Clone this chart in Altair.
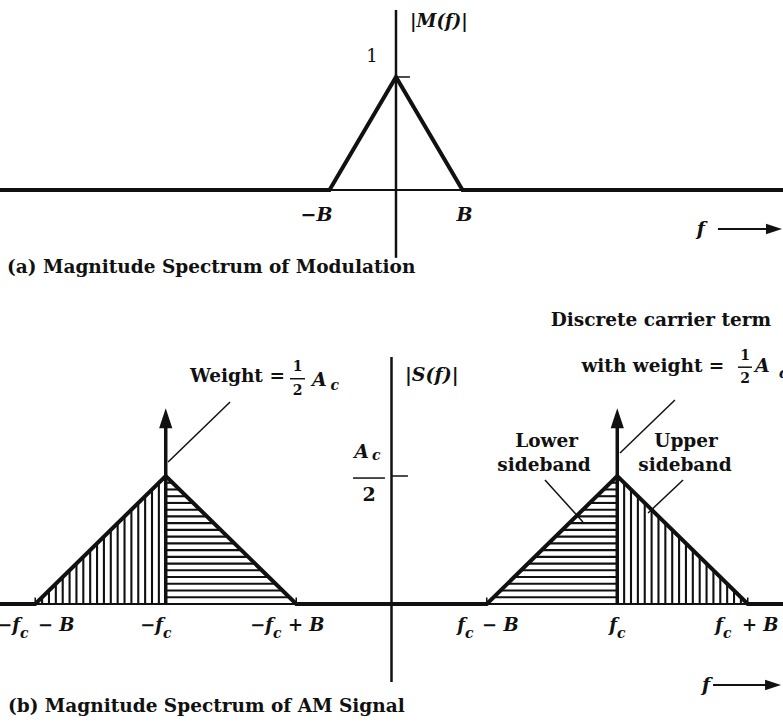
import altair as alt
import numpy as np
import pandas as pd

INK = "#111111"
SERIF = "DejaVu Serif"

# (a) message spectrum |M(f)|: f in units of B, peak normalised to 1
m_freq = [-5.955, -1.0, 0.0, 1.0, 5.82]
m_mag = [0.0, 0.0, 1.0, 0.0, 0.0]

# (b) AM spectrum |S(f)|: f in units of B, sideband peak A_c/2 taken as 1
f_c = 1.73
band = 1.0
s_freq = [-3.0, -f_c - band, -f_c, -f_c + band, f_c - band, f_c, f_c + band, 3.0]
s_mag = [0.0, 0.0, 1.0, 0.0, 0.0, 1.0, 0.0, 0.0]
carrier_freq = [-f_c, f_c]
carrier_top = [1.53, 1.53]          # drawn height of the impulse arrows

# frequency tick labels of panel (b): prefix, subscript, suffix
tick_prefix = ["\u2212f", "\u2212f", "\u2212f", "f", "f", "f"]
tick_suffix = ["\u2212 B", "", "+ B", "\u2212 B", "", "+ B"]

# plot frames (data units)
A_X, A_Y, A_H = (-5.955, 5.82), (-0.973, 1.681), 300
B_X, B_Y, B_H = (-3.0, 3.0), (-0.9375, 2.375), 424
W = 783
TXT = 18.5

UP_HEAD = "M0,0 L0.33,1 L-0.33,1 Z"
RIGHT_HEAD = "M0,0 L-1,-0.33 L-1,0.33 Z"


def sc(dom):
    return alt.Scale(domain=list(dom), nice=False, zero=False)


def pos(xd, yd):
    return dict(x=alt.X("x:Q", scale=sc(xd), axis=None),
                y=alt.Y("y:Q", scale=sc(yd), axis=None))


def segments(rows, width, xd, yd):
    df = pd.DataFrame(rows, columns=["x", "y", "x2", "y2"])
    return alt.Chart(df).mark_rule(color=INK, strokeWidth=width, clip=True).encode(
        **pos(xd, yd), x2="x2:Q", y2="y2:Q")


def polyline(xv, yv, width, xd, yd):
    df = pd.DataFrame({"x": xv, "y": yv, "i": range(len(xv))})
    return alt.Chart(df).mark_line(color=INK, strokeWidth=width, strokeJoin="miter",
                                   clip=True).encode(**pos(xd, yd), order="i:Q")


def heads(rows, shape, size, xd, yd):
    df = pd.DataFrame(rows, columns=["x", "y"])
    return alt.Chart(df).mark_point(shape=shape, size=size, filled=True, color=INK,
                                    opacity=1, strokeWidth=0, clip=True).encode(**pos(xd, yd))


def words(rows, xd, yd, size, italic=False, bold=True, align="left", baseline="middle"):
    df = pd.DataFrame(rows, columns=["x", "y", "t"])
    return alt.Chart(df).mark_text(
        font=SERIF, fontSize=size, fontStyle="italic" if italic else "normal",
        fontWeight="bold" if bold else "normal", align=align, baseline=baseline,
        color=INK, clip=True).encode(**pos(xd, yd), text="t:N")


# ---------------- panel (a) ----------------
a_layers = [
    segments([(A_X[0], 0, A_X[1], 0)], 2, A_X, A_Y),
    segments([(0, -0.60, 0, 1.593)], 2.5, A_X, A_Y),
    segments([(0.015, 1.0, 0.21, 1.0)], 1.5, A_X, A_Y),
    polyline(m_freq, m_mag, 4, A_X, A_Y),
    segments([(4.842, -0.345, 5.62, -0.345)], 2, A_X, A_Y),
    heads([(5.805, -0.345)], RIGHT_HEAD, 1024, A_X, A_Y),
    words([(-0.36, 1.177, "1")], A_X, A_Y, 18, bold=False, align="center"),
    words([(0.21, 1.487, "|M(f)|")], A_X, A_Y, 18, italic=True),
    words([(-1.195, -0.217, "\u2212B"), (1.03, -0.217, "B"), (4.586, -0.345, "f")],
          A_X, A_Y, 19, italic=True, align="center"),
    words([(-5.85, -0.681, "(a)  Magnitude Spectrum of Modulation")], A_X, A_Y, TXT),
]
panel_a = alt.layer(*a_layers).properties(width=W, height=A_H)

# ---------------- panel (b) ----------------
N_HATCH = 19
hatch = []
for centre in carrier_freq:
    out = np.sign(centre)            # direction away from f = 0
    for k in range(1, N_HATCH):
        u = k / N_HATCH
        xv = centre + out * band * u
        hatch.append((xv, 0.0, xv, 1.0 - u))                           # outer sideband
        hatch.append((centre - out * band * (1.0 - u), u, centre, u))  # inner sideband

edges = [-f_c - band, -f_c + band, f_c - band, f_c + band]
anchors = [-2.847, -1.751, -0.908, 0.563, 1.728, 2.540]
suffix_x = [-2.709, None, -0.793, 0.694, None, 2.686]

b_layers = [
    segments(hatch, 2.1, B_X, B_Y),
    segments([(B_X[0], 0, B_X[1], 0)], 2, B_X, B_Y),
    segments([(0, -0.61, 0, 1.93)], 2.5, B_X, B_Y),
    polyline(s_freq, s_mag, 4, B_X, B_Y),
    segments([(c, 0, c, t - 0.08) for c, t in zip(carrier_freq, carrier_top)], 3.5, B_X, B_Y),
    heads(list(zip(carrier_freq, carrier_top)), UP_HEAD, 1600, B_X, B_Y),
    segments([(e, 0, e, 0.05) for e in edges], 1.5, B_X, B_Y),
    # A_c/2 level tick and fraction bars
    segments([(0.004, 1.0, 0.126, 1.0), (-0.295, 0.984, -0.05, 0.984),
              (-0.778, 1.76, -0.663, 1.76), (2.655, 1.85, 2.762, 1.85)], 1.5, B_X, B_Y),
    # leader lines
    segments([(-1.237, 1.578, -1.712, 1.109), (2.172, 1.594, 1.751, 1.18),
              (1.176, 0.969, 1.467, 0.641), (2.234, 0.969, 1.966, 0.711)], 1.5, B_X, B_Y),
    segments([(2.464, -0.633, 2.9, -0.633)], 2, B_X, B_Y),
    heads([(2.985, -0.633)], RIGHT_HEAD, 1024, B_X, B_Y),
    # frequency tick labels
    words([(a, -0.211, p) for a, p in zip(anchors, tick_prefix)], B_X, B_Y, 18,
          italic=True, align="right", baseline="alphabetic"),
    words([(a, -0.265, "c") for a in anchors], B_X, B_Y, 14,
          italic=True, baseline="alphabetic"),
    words([(sx, -0.211, s) for sx, s in zip(suffix_x, tick_suffix) if s], B_X, B_Y, 18,
          italic=True, baseline="alphabetic"),
    # math annotations
    words([(-0.285, 1.19, "A"), (0.103, 1.79, "|S(f)|"), (-0.609, 1.75, "A"),
           (2.785, 1.859, "A"), (2.38, -0.633, "f")], B_X, B_Y, 19, italic=True),
    words([(-0.149, 1.16, "c"), (-0.467, 1.70, "c"), (2.969, 1.80, "c")],
          B_X, B_Y, 14, italic=True),
    words([(-0.172, 0.852, "2")], B_X, B_Y, 19, align="center"),
    words([(-0.72, 1.85, "1"), (-0.72, 1.664, "2"), (2.709, 1.9375, "1"),
           (2.709, 1.758, "2")], B_X, B_Y, 14, align="center"),
    words([(-1.545, 1.78, "Weight"), (1.455, 1.859, "with weight")], B_X, B_Y, TXT),
    words([(-0.875, 1.78, "="), (2.49, 1.859, "=")], B_X, B_Y, TXT, align="center"),
    words([(2.065, 2.219, "Discrete carrier term"), (1.188, 1.273, "Lower"),
           (1.169, 1.086, "sideband"), (2.257, 1.273, "Upper"),
           (2.249, 1.086, "sideband")], B_X, B_Y, TXT, align="center"),
    words([(-2.939, -0.797, "(b)  Magnitude Spectrum of AM Signal")], B_X, B_Y, TXT),
]
panel_b = alt.layer(*b_layers).properties(width=W, height=B_H)

chart = (
    alt.vconcat(panel_a, panel_b, spacing=0)
    .resolve_scale(x="independent", y="independent")
    .properties(padding=0, background="white")
    .configure_view(strokeWidth=0)
)

chart.save("out.html", embed_options={"renderer": "svg", "actions": False})
